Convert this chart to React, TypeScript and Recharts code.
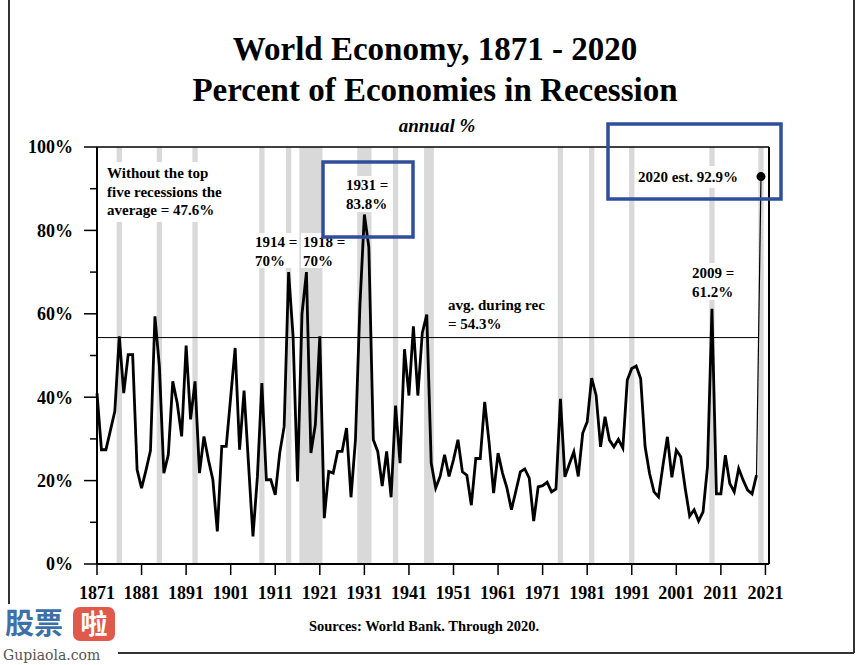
import React from "react";
import { LineChart, Line, XAxis, YAxis, ReferenceArea, ReferenceLine } from "recharts";

const START_YEAR = 1871;

// share of economies in recession, % (1871 .. 2020)
const recessionShare = [
  41.0, 27.4, 27.4, 32.0, 36.6, 54.6, 41.0, 50.2, 50.2, 22.6,
  18.2, 22.5, 27.2, 59.4, 47.4, 21.8, 26.2, 43.8, 38.6, 30.6,
  52.4, 34.7, 43.8, 21.8, 30.6, 25.0, 20.2, 7.8, 28.2, 28.2,
  40.0, 51.8, 27.4, 41.6, 24.0, 6.6, 21.0, 43.4, 20.2, 20.2,
  16.6, 26.6, 33.0, 70.0, 54.6, 19.8, 60.0, 70.0, 26.6, 33.4,
  54.6, 11.0, 22.2, 21.8, 27.0, 27.0, 32.6, 16.0, 29.8, 62.0,
  83.8, 76.0, 29.8, 27.0, 18.7, 27.0, 16.0, 38.0, 24.2, 51.5,
  40.4, 57.0, 40.4, 55.4, 59.8, 24.2, 18.2, 21.0, 26.2, 21.0,
  25.0, 29.8, 22.1, 21.3, 14.1, 25.3, 25.3, 38.9, 29.0, 17.0,
  26.6, 21.8, 18.2, 13.0, 17.5, 22.1, 22.8, 20.6, 10.3, 18.5,
  18.8, 19.6, 17.3, 18.0, 39.6, 20.9, 24.0, 26.9, 21.0, 31.4,
  34.1, 44.6, 40.5, 28.1, 35.3, 29.7, 28.1, 29.9, 27.8, 44.1,
  46.9, 47.5, 44.5, 28.1, 21.7, 17.3, 16.1, 23.6, 30.5, 20.8,
  27.3, 25.7, 18.1, 11.5, 13.0, 10.3, 12.5, 23.3, 61.2, 16.8,
  16.8, 26.1, 19.3, 17.3, 22.9, 20.1, 17.7, 16.8, 21.3, 92.9,
];

const EST_YEAR = 2020;
const AVG_DURING_REC = 54.3;

// global recession years (shaded)
const recessionBands = [
  [1876, 1876], [1885, 1885], [1893, 1893], [1908, 1908], [1914, 1914],
  [1917, 1921], [1930, 1932], [1938, 1938], [1945, 1946], [1975, 1975],
  [1982, 1982], [1991, 1991], [2009, 2009], [2020, 2020],
];

const yearTicks = [1871, 1881, 1891, 1901, 1911, 1921, 1931, 1941, 1951, 1961, 1971, 1981, 1991, 2001, 2011, 2021];
const pctTicks = [0, 10, 20, 30, 40, 50, 60, 70, 80, 90, 100];

const data = recessionShare.map((v, i) => {
  const year = START_YEAR + i;
  return {
    year,
    share: year < EST_YEAR ? v : null,
    est: year >= EST_YEAR - 1 ? v : null,
  };
});

const SERIF = "'Liberation Serif', 'Times New Roman', serif";
const BLUE = "#2f4e9b";

const LeftTick = (props: any) => {
  const { x, y, payload } = props;
  const major = payload.value % 20 === 0;
  return (
    <g>
      <line x1={x - (major ? 13 : 7)} x2={x} y1={y} y2={y} stroke="#000" strokeWidth={1.5} />
      {major && (
        <text x={x - 24} y={y} dy="0.35em" textAnchor="end" fontFamily={SERIF} fontWeight="bold" fontSize={18} fill="#000">
          {payload.value}%
        </text>
      )}
    </g>
  );
};

const RightTick = (props: any) => {
  const { x, y, payload } = props;
  const major = payload.value % 20 === 0;
  return (
    <g>
      <line x1={x} x2={x + (major ? 9 : 5)} y1={y} y2={y} stroke="#000" strokeWidth={1.5} />
      {major && (
        <text x={x + 20} y={y} dy="0.35em" textAnchor="start" fontFamily={SERIF} fontWeight="bold" fontSize={18} fill="#000">
          {payload.value}%
        </text>
      )}
    </g>
  );
};

const YearTick = (props: any) => {
  const { x, y, payload } = props;
  return (
    <g>
      <line x1={x} x2={x} y1={y} y2={y + 11} stroke="#000" strokeWidth={1.5} />
      <text x={x} y={y + 35} textAnchor="middle" fontFamily={SERIF} fontWeight="bold" fontSize={18} fill="#000">
        {payload.value}
      </text>
    </g>
  );
};

const EstDot = (props: any) => {
  const { cx, cy, payload } = props;
  if (payload.year !== EST_YEAR) return <g key={`d${payload.year}`} />;
  return <circle key={`d${payload.year}`} cx={cx} cy={cy} r={4.5} fill="#000" />;
};

function Label({ x, y, lines, bg }: { x: number; y: number; lines: string[]; bg?: number[] }) {
  return (
    <g>
      {bg && <rect x={bg[0]} y={bg[1]} width={bg[2]} height={bg[3]} fill="#fff" />}
      <text fontFamily={SERIF} fontWeight="bold" fontSize={15} fill="#000">
        {lines.map((l, i) => (
          <tspan key={i} x={x} y={y + i * 18.5}>
            {l}
          </tspan>
        ))}
      </text>
    </g>
  );
}

export default function App() {
  return (
    <div style={{ position: "absolute", left: 0, top: 0, width: 864, height: 665, background: "#fff" }}>
      <LineChart
        width={864}
        height={665}
        data={data}
        margin={{ top: 147, right: 35, bottom: 61, left: 37 }}
      >
        {recessionBands.map(([a, b]) => (
          <ReferenceArea
            key={a}
            yAxisId="left"
            x1={a - 0.6}
            x2={b + 0.6}
            y1={0}
            y2={100}
            fill="#d9d9d9"
            fillOpacity={1}
            stroke="none"
          />
        ))}
        <XAxis
          dataKey="year"
          type="number"
          domain={[1871, 2021.8]}
          ticks={yearTicks}
          interval={0}
          height={40}
          tickSize={0}
          tickMargin={0}
          tickLine={false}
          tick={<YearTick />}
          axisLine={{ stroke: "#000", strokeWidth: 2 }}
        />
        <YAxis
          yAxisId="left"
          domain={[0, 100]}
          ticks={pctTicks}
          interval={0}
          width={60}
          tickSize={0}
          tickMargin={0}
          tickLine={false}
          tick={<LeftTick />}
          axisLine={{ stroke: "#000", strokeWidth: 2 }}
        />
        <YAxis
          yAxisId="right"
          orientation="right"
          domain={[0, 100]}
          ticks={pctTicks}
          interval={0}
          width={60}
          tickSize={0}
          tickMargin={0}
          tickLine={false}
          tick={<RightTick />}
          axisLine={{ stroke: "#000", strokeWidth: 2 }}
        />
        <ReferenceLine yAxisId="left" y={100} stroke="#000" strokeWidth={1.5} />
        <ReferenceLine
          yAxisId="left"
          segment={[{ x: 1871, y: AVG_DURING_REC }, { x: 2019.4, y: AVG_DURING_REC }]}
          stroke="#000"
          strokeWidth={1}
        />
        <Line
          yAxisId="left"
          dataKey="share"
          stroke="#000"
          strokeWidth={2.8}
          dot={false}
          isAnimationActive={false}
        />
        <Line
          yAxisId="left"
          dataKey="est"
          stroke="#000"
          strokeWidth={1.2}
          dot={<EstDot />}
          isAnimationActive={false}
        />
      </LineChart>

      <svg width={864} height={665} style={{ position: "absolute", left: 0, top: 0, pointerEvents: "none" }}>
        {/* frame */}
        <line x1={9} y1={0} x2={9} y2={604} stroke="#333" strokeWidth={2} />
        <line x1={854} y1={0} x2={854} y2={653} stroke="#333" strokeWidth={2} />
        <line x1={118} y1={653} x2={854} y2={653} stroke="#333" strokeWidth={2} />

        <text x={435} y={60} textAnchor="middle" fontFamily={SERIF} fontWeight="bold" fontSize={33} fill="#000">
          World Economy, 1871 - 2020
        </text>
        <text x={435} y={101} textAnchor="middle" fontFamily={SERIF} fontWeight="bold" fontSize={33} fill="#000">
          Percent of Economies in Recession
        </text>
        <text x={437} y={132} textAnchor="middle" fontFamily={SERIF} fontWeight="bold" fontStyle="italic" fontSize={19} fill="#000">
          annual %
        </text>

        <Label x={107} y={178} lines={["Without the top", "five recessions the", "average = 47.6%"]} bg={[104, 162, 126, 60]} />
        <Label x={255} y={247} lines={["1914 =", "70%"]} bg={[253, 233, 44, 35]} />
        <Label x={303} y={247} lines={["1918 =", "70%"]} bg={[301, 233, 44, 35]} />
        <Label x={346} y={190} lines={["1931 =", "83.8%"]} bg={[344, 176, 46, 36]} />
        <Label x={448} y={310} lines={["avg. during rec", "= 54.3%"]} />
        <Label x={692} y={278} lines={["2009 =", "61.2%"]} bg={[689, 263, 46, 37]} />
        <Label x={638} y={182} lines={["2020 est. 92.9%"]} bg={[635, 166, 112, 22]} />

        <rect x={323} y={162} width={90} height={75} fill="none" stroke={BLUE} strokeWidth={3.5} />
        <rect x={608} y={124} width={173} height={75} fill="none" stroke={BLUE} strokeWidth={3.5} />

        <text x={424} y={631} textAnchor="middle" fontFamily={SERIF} fontWeight="bold" fontSize={14.5} fill="#000">
          Sources: World Bank. Through 2020.
        </text>

        {/* watermark */}
        <text x={5} y={634} fontFamily="'Noto Sans CJK SC', sans-serif" fontWeight="bold" fontSize={29} fill="#3d6fa8">
          股票
        </text>
        <rect x={73} y={607} width={42} height={34} rx={7} fill="#e0594d" />
        <text x={94} y={634} textAnchor="middle" fontFamily="'Noto Sans CJK SC', sans-serif" fontWeight="bold" fontSize={27} fill="#fff">
          啦
        </text>
        <text x={3} y={660} fontFamily="'DejaVu Serif', serif" fontSize={14} fill="#555">
          Gupiaola.com
        </text>
      </svg>
    </div>
  );
}
